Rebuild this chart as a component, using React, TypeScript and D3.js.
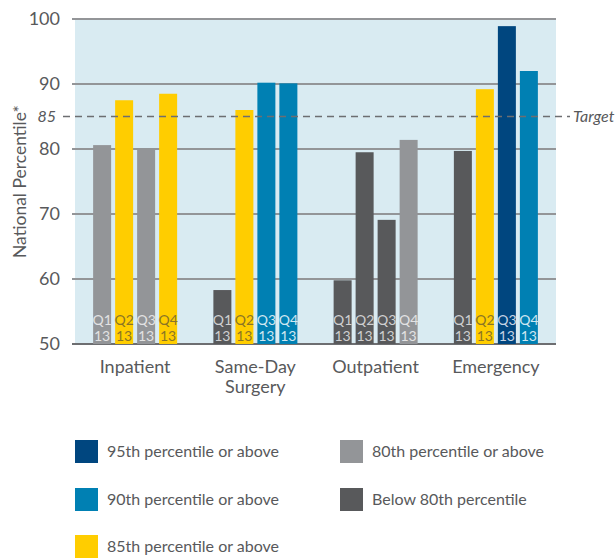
import React from "react";
import * as d3 from "d3";

const categories = ["Inpatient", "Same-Day Surgery", "Outpatient", "Emergency"];
const quarters = ["Q1", "Q2", "Q3", "Q4"];
const yearLabel = "13";
const inpatientValues = [80.6, 87.5, 80.1, 88.5];
const sameDayValues = [58.3, 86.0, 90.2, 90.1];
const outpatientValues = [59.8, 79.5, 69.1, 81.4];
const emergencyValues = [79.7, 89.2, 98.9, 92.0];
const seriesValues = [inpatientValues, sameDayValues, outpatientValues, emergencyValues];
const yTicks = [50, 60, 70, 80, 90, 100];
const targetValue = 85;

const levelThresholds = [95, 90, 85, 80];
const levelLabels = [
  "95th percentile or above",
  "90th percentile or above",
  "85th percentile or above",
  "80th percentile or above",
  "Below 80th percentile",
];
const levelColors = ["#00467f", "#0080b3", "#ffcd00", "#939598", "#58595b"];
const levelTextColors = ["#c6d3e3", "#cfe6f0", "#8a7526", "#e2e2e3", "#cfcfd0"];

const FONT = "Lato, 'Open Sans', sans-serif";
const TEXT = "#58595b";

function levelOf(v: number) {
  for (let i = 0; i < levelThresholds.length; i++) if (v >= levelThresholds[i]) return i;
  return levelThresholds.length;
}

export default function App() {
  const W = 615, H = 558;
  const left = 75, right = 556, top = 19, bottom = 344;
  const x0 = d3.scaleBand<string>().domain(categories).range([left, right]).padding(0);
  const x1 = d3.scaleBand<string>().domain(quarters).range([0, 84]).paddingInner(4 / 22).paddingOuter(0);
  const y = d3.scaleLinear().domain([50, 100]).range([bottom, top]);
  const groupOffset = (x0.bandwidth() - 84) / 2;

  const legendPos = [
    { x: 75, y: 440 },
    { x: 75, y: 488 },
    { x: 75, y: 535 },
    { x: 340, y: 440 },
    { x: 340, y: 488 },
  ];

  return (
    <svg width={W} height={H} style={{ position: "absolute", left: 0, top: 0 }} fontFamily={FONT}>
      <rect x={left} y={top} width={right - left} height={bottom - top} fill="#d9ebf2" />
      {yTicks.map((t) => (
        <g key={t}>
          <line
            x1={left - 3}
            x2={right}
            y1={y(t)}
            y2={y(t)}
            stroke={t === 50 ? "#6d6e71" : "#939598"}
            strokeWidth={2}
          />
          <text x={60} y={y(t)} dy="0.35em" textAnchor="end" fontSize={18} fill={TEXT}>
            {t}
          </text>
        </g>
      ))}
      {categories.map((c, ci) => {
        const words = c.split(" ");
        const twoLine = words.length > 1 && c.includes("-");
        return (
          <g key={c} transform={`translate(${(x0(c) as number) + groupOffset},0)`}>
            {quarters.map((q, qi) => {
              const v = seriesValues[ci][qi];
              const lv = levelOf(v);
              const bx = x1(q) as number;
              const bw = x1.bandwidth();
              return (
                <g key={q}>
                  <rect x={bx} y={y(v)} width={bw} height={bottom - y(v)} fill={levelColors[lv]} />
                  <text x={bx + bw / 2} y={325} textAnchor="middle" fontSize={14} fill={levelTextColors[lv]}>
                    {q}
                  </text>
                  <text x={bx + bw / 2} y={341} textAnchor="middle" fontSize={14} fill={levelTextColors[lv]}>
                    {yearLabel}
                  </text>
                </g>
              );
            })}
            {twoLine ? (
              <>
                <text x={42} y={373} textAnchor="middle" fontSize={18} fill={TEXT}>
                  {words[0]}
                </text>
                <text x={42} y={393} textAnchor="middle" fontSize={18} fill={TEXT}>
                  {words.slice(1).join(" ")}
                </text>
              </>
            ) : (
              <text x={42} y={373} textAnchor="middle" fontSize={18} fill={TEXT}>
                {c}
              </text>
            )}
          </g>
        );
      })}
      <line
        x1={63}
        x2={570}
        y1={y(targetValue)}
        y2={y(targetValue)}
        stroke="#6d6e71"
        strokeWidth={1.5}
        strokeDasharray="7,5"
      />
      <text x={56} y={y(targetValue)} dy="0.35em" textAnchor="end" fontSize={16} fontStyle="italic" fill={TEXT}>
        {targetValue}
      </text>
      <text x={573} y={y(targetValue)} dy="0.35em" fontSize={16} fontStyle="italic" fill={TEXT}>
        Target
      </text>
      <text
        transform={`translate(20,${(top + bottom) / 2}) rotate(-90)`}
        textAnchor="middle"
        dy="0.35em"
        fontSize={17.5}
        fill={TEXT}
      >
        National Percentile*
      </text>
      {levelLabels.map((l, i) => (
        <g key={l} transform={`translate(${legendPos[i].x},${legendPos[i].y})`}>
          <rect width={23} height={23} fill={levelColors[i]} />
          <text x={32} y={11.5} dy="0.35em" fontSize={16} fill={TEXT}>
            {l}
          </text>
        </g>
      ))}
    </svg>
  );
}
